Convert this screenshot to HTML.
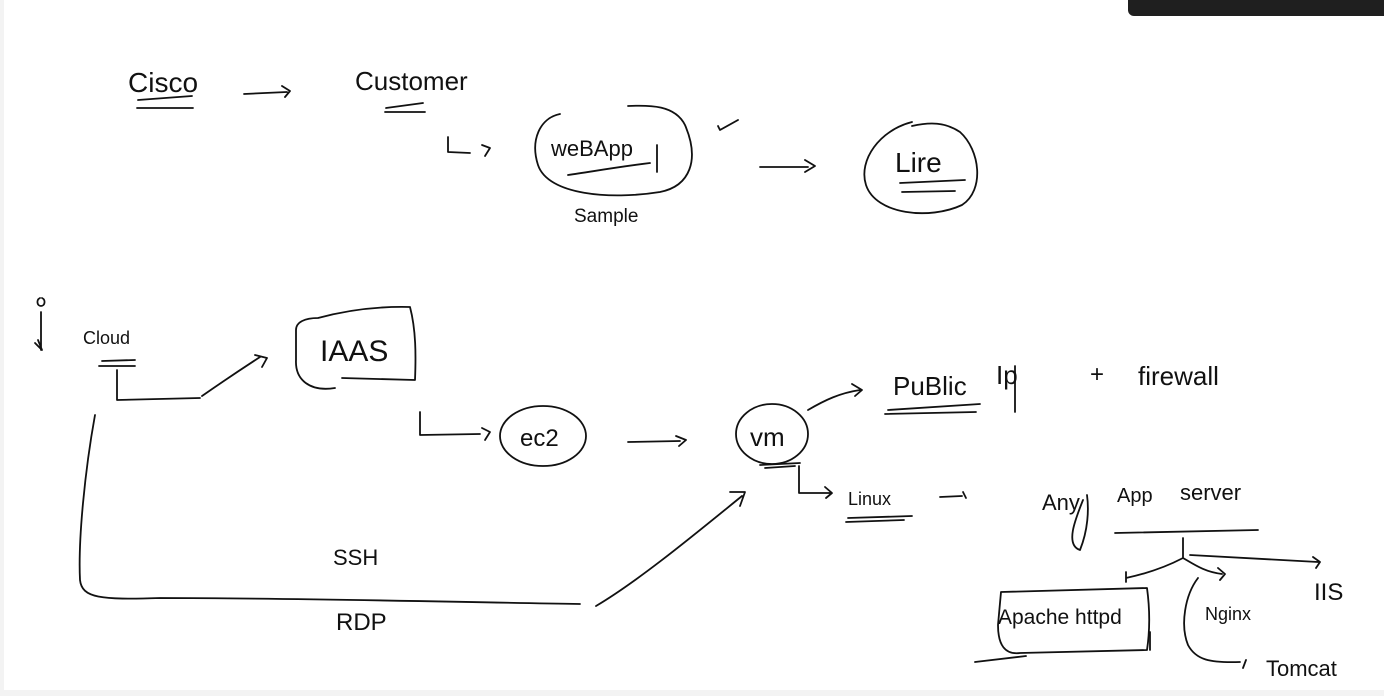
<!DOCTYPE html>
<html><head><meta charset="utf-8"><style>
html,body{margin:0;padding:0;background:#fff;}
svg{display:block;}
text{font-family:"Liberation Sans",sans-serif;fill:#111;}
</style></head><body>
<svg width="1384" height="696" viewBox="0 0 1384 696" xmlns="http://www.w3.org/2000/svg">
<rect x="0" y="0" width="1384" height="696" fill="#fff"/>
<rect x="0" y="0" width="4" height="696" fill="#f3f3f3"/>
<rect x="0" y="690" width="1384" height="6" fill="#f3f3f3"/>
<rect x="1128" y="-10" width="270" height="26" rx="6" fill="#1f1f1f"/>
<g fill="none" stroke="#111" stroke-width="1.8" stroke-linecap="round" stroke-linejoin="round">
<path d="M138 100 L192 96 M137 108 L193 108"/>
<path d="M244 94 L287 92 M282 86 L290 91 L285 97"/>
<path d="M386 108 L423 103 M385 112 L425 112"/>
<path d="M448 137 L448 152 L470 153 M482 145 L490 148 L485 156"/>
<path d="M560 114 C540 118 530 140 538 165 C548 195 610 200 660 192 C690 186 700 160 685 125 C675 105 650 105 628 106"/>
<path d="M568 175 C590 172 610 168 650 163"/>
<path d="M657 145 L657 172"/>
<path d="M718 126 L720 130 L738 120"/>
<path d="M760 167 L808 167 M805 160 L815 166 L805 172"/>
<path d="M912 122 C880 130 858 160 866 185 C876 215 930 220 962 205 C985 190 980 150 960 132 C945 122 930 122 912 126"/>
<path d="M900 183 L965 180 M902 192 L955 191"/>
<path d="M40 298 C36 300 37 306 41 306 C45 306 46 300 42 298 M41 312 L41 350 M35 343 L42 350 L38 340"/>
<path d="M102 361 L135 360 M99 366 L135 366"/>
<path d="M117 370 L117 400 L200 398 M202 396 C225 380 240 370 260 357 M255 355 L267 358 L262 367"/>
<path d="M318 318 C340 312 370 306 410 307 C416 330 416 355 415 380 L342 378 M335 388 C310 392 295 380 296 360 L296 330 C296 322 305 318 318 318"/>
<path d="M420 412 L420 435 L480 434 M482 428 L490 432 L485 440"/>
<ellipse cx="543" cy="436" rx="43" ry="30"/>
<path d="M628 442 L680 441 M676 436 L686 440 L679 446"/>
<path d="M95 415 C85 470 78 540 80 580 C82 598 100 600 160 598 C300 598 450 602 580 604"/>
<path d="M596 606 C640 580 700 530 742 496 M730 492 L745 492 L740 506"/>
<ellipse cx="772" cy="434" rx="36" ry="30"/>
<path d="M760 465 L800 463 M765 468 L795 466"/>
<path d="M799 466 L799 493 L830 493 M825 487 L832 493 L826 498"/>
<path d="M808 410 C825 400 840 393 860 390 M852 384 L862 390 L855 396"/>
<path d="M888 410 L980 404 M885 414 L976 412"/>
<path d="M1015 366 L1015 412"/>
<path d="M848 518 L912 516 M846 522 L904 520"/>
<path d="M940 497 L962 496 M963 492 L966 498"/>
<path d="M1083 500 C1075 520 1065 545 1080 550 C1088 530 1089 510 1087 495"/>
<path d="M1115 533 L1258 530"/>
<path d="M1183 538 L1183 558 C1160 570 1140 575 1126 578 M1126 572 L1126 582 M1183 558 C1195 565 1205 572 1222 574 M1218 568 L1225 574 L1220 580 M1190 555 L1318 562 M1313 557 L1320 562 L1316 568"/>
<path d="M1001 592 L1147 588 C1150 610 1150 630 1147 650 L1020 653 C1005 655 998 645 998 625 L1001 592"/>
<path d="M975 662 L1026 656"/>
<path d="M1198 578 C1185 595 1180 625 1188 645 C1196 660 1210 663 1240 662 M1246 660 L1243 668"/>
<path d="M1150 650 L1150 632"/>
</g>
<g>
<text x="128" y="92" font-size="28">Cisco</text>
<text x="355" y="90" font-size="26">Customer</text>
<text x="551" y="156" font-size="22">weBApp</text>
<text x="574" y="222" font-size="19">Sample</text>
<text x="895" y="172" font-size="28">Lire</text>
<text x="83" y="344" font-size="18">Cloud</text>
<text x="320" y="361" font-size="30">IAAS</text>
<text x="520" y="446" font-size="24">ec2</text>
<text x="750" y="446" font-size="26">vm</text>
<text x="333" y="565" font-size="22">SSH</text>
<text x="336" y="630" font-size="24">RDP</text>
<text x="893" y="395" font-size="26">PuBlic</text>
<text x="996" y="384" font-size="26">Ip</text>
<text x="1090" y="382" font-size="24">+</text>
<text x="1138" y="385" font-size="26">firewall</text>
<text x="848" y="505" font-size="18">Linux</text>
<text x="1042" y="510" font-size="22">Any</text>
<text x="1117" y="502" font-size="20">App</text>
<text x="1180" y="500" font-size="22">server</text>
<text x="998" y="624" font-size="21">Apache httpd</text>
<text x="1205" y="620" font-size="18">Nginx</text>
<text x="1314" y="600" font-size="24">IIS</text>
<text x="1266" y="676" font-size="22">Tomcat</text>
</g>
</svg>
</body></html>
